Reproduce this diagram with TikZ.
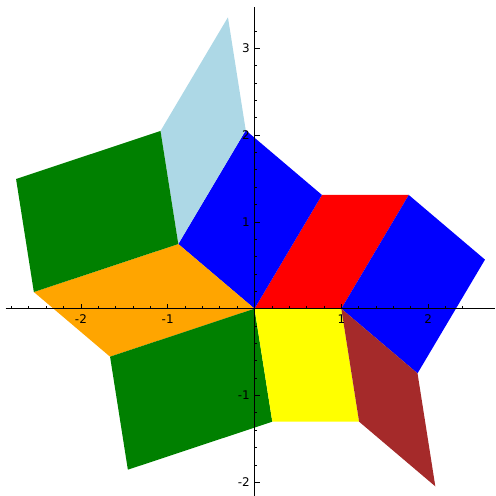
\documentclass[tikz,border=0pt]{standalone}
\usepackage{fontspec}
\setmainfont{DejaVu Sans}
\definecolor{cRed}{RGB}{255,0,0}
\definecolor{cBlue}{RGB}{0,0,255}
\definecolor{cOrange}{RGB}{255,165,0}
\definecolor{cGreen}{RGB}{0,128,0}
\definecolor{cYellow}{RGB}{255,255,0}
\definecolor{cBrown}{RGB}{165,42,42}
\definecolor{cLightBlue}{RGB}{173,216,230}
\begin{document}
\begin{tikzpicture}[x=2.5cm,y=2.5cm,
  axisline/.style={line width=0.8pt,black},
  tickline/.style={line width=0.6pt,black},
  xlab/.style={anchor=north,inner sep=0pt,font=\fontsize{9.8}{10}\selectfont},
  ylab/.style={anchor=east,inner sep=0pt,font=\fontsize{9.8}{10}\selectfont}]
\useasboundingbox (-2.932,-2.158) rectangle (2.771,3.556);
% vertices
\coordinate (O) at (0,0);
\coordinate (E1) at (1,0);
\coordinate (E2) at (0.777,1.31);
\coordinate (E3) at (-0.878,0.745);
\coordinate (E4) at (-1.664,-0.553);
\coordinate (E5) at (0.205,-1.302);
\coordinate (E12) at (1.777,1.31);
\coordinate (E23) at (-0.101,2.055);
\coordinate (E34) at (-2.542,0.192);
\coordinate (E45) at (-1.459,-1.855);
\coordinate (E15) at (1.205,-1.302);
\coordinate (R1) at (2.655,0.565);
\coordinate (R2) at (1.878,-0.745);
\coordinate (B1) at (2.083,-2.047);
\coordinate (L1) at (-0.306,3.357);
\coordinate (L2) at (-1.083,2.047);
\coordinate (G1) at (-2.747,1.494);
% tiles
\fill[cRed] (O) -- (E1) -- (E12) -- (E2) -- cycle;
\fill[cBlue] (O) -- (E2) -- (E23) -- (E3) -- cycle;
\fill[cOrange] (O) -- (E3) -- (E34) -- (E4) -- cycle;
\fill[cGreen] (O) -- (E4) -- (E45) -- (E5) -- cycle;
\fill[cYellow] (O) -- (E5) -- (E15) -- (E1) -- cycle;
\fill[cBlue] (E1) -- (E12) -- (R1) -- (R2) -- cycle;
\fill[cBrown] (E1) -- (E15) -- (B1) -- (R2) -- cycle;
\fill[cLightBlue] (E3) -- (E23) -- (L1) -- (L2) -- cycle;
\fill[cGreen] (E3) -- (E34) -- (G1) -- (L2) -- cycle;
% axes
\coordinate (XL) at (-2.866,0);
\coordinate (XR) at (2.771,0);
\coordinate (YB) at (0,-2.158);
\coordinate (YT) at (0,3.475);
\draw[axisline] (XL) -- (XR);
\draw[axisline] (YB) -- (YT);
\foreach \i in {-14,...,12} {
  \draw[tickline] (\i/5,0) -- ++(0,0.031);
}
\foreach \i in {-2,-1,1,2} {
  \draw[tickline] (\i,0) -- ++(0,0.0576);
}
\foreach \i in {-10,...,16} {
  \draw[tickline] (0,\i/5) -- ++(0.031,0);
}
\foreach \i in {-2,-1,1,2,3} {
  \draw[tickline] (0,\i) -- ++(0.0576,0);
}
\node[xlab] (xm2) at (-2,-0.063) {-2};
\node[xlab] (xm1) at (-1,-0.063) {-1};
\node[xlab] (xp1) at (1,-0.063) {1};
\node[xlab] (xp2) at (2,-0.063) {2};
\node[ylab] (ym2) at (-0.052,-2) {-2};
\node[ylab] (ym1) at (-0.052,-1) {-1};
\node[ylab] (yp1) at (-0.052,1) {1};
\node[ylab] (yp2) at (-0.052,2) {2};
\node[ylab] (yp3) at (-0.052,3) {3};
\end{tikzpicture}
\end{document}
